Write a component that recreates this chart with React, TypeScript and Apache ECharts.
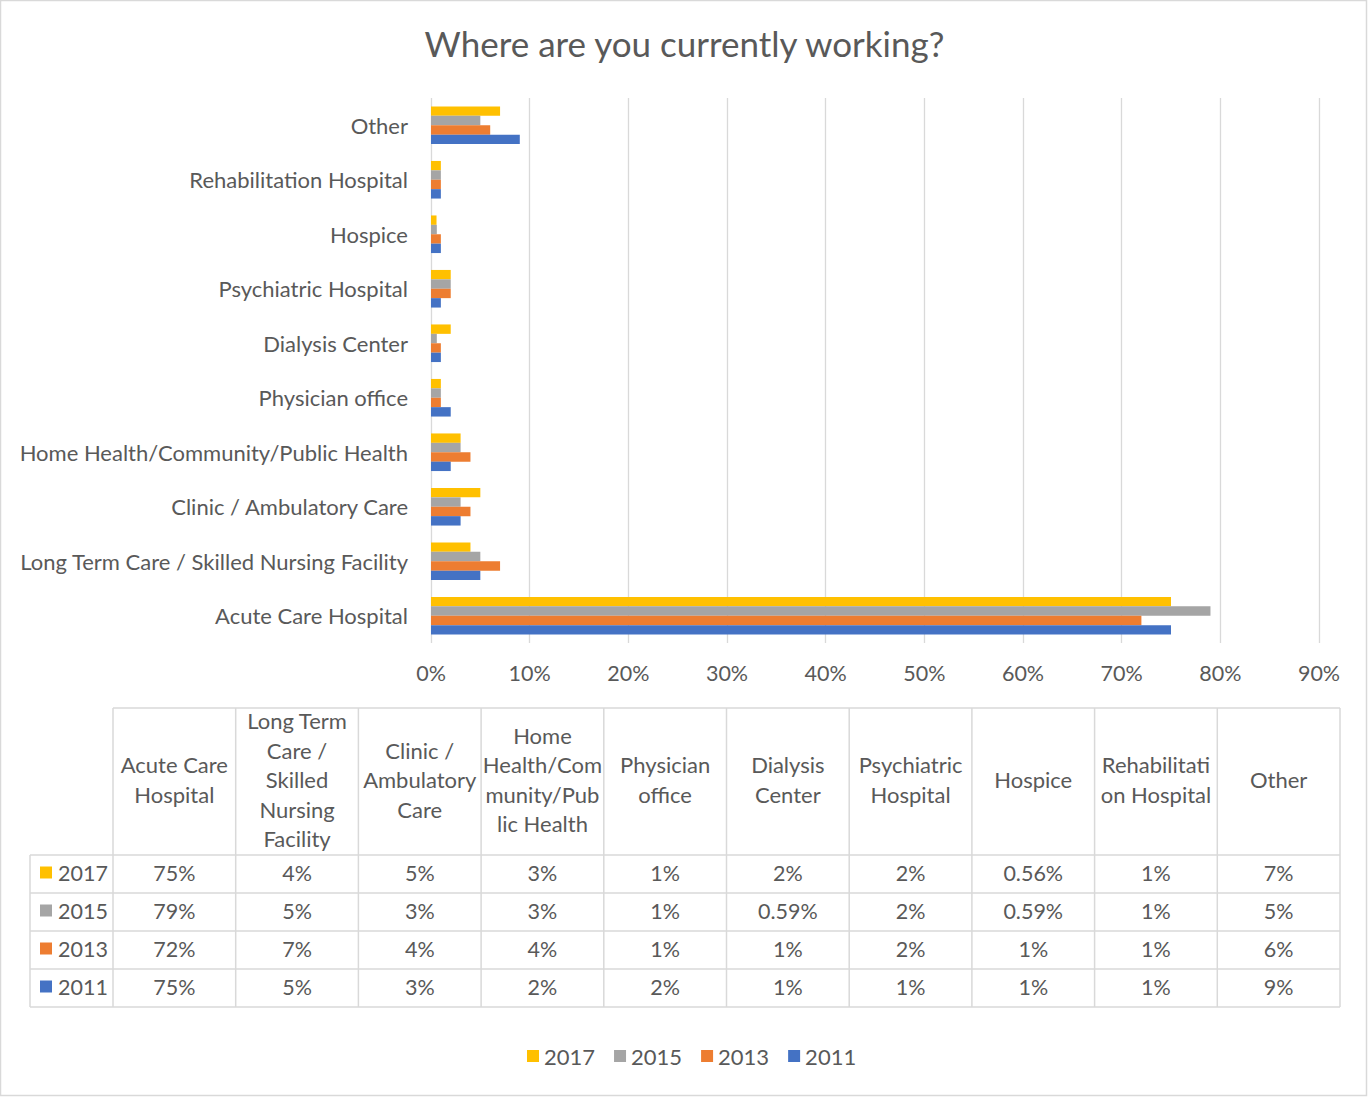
import React, { useEffect, useRef } from "react";
import * as echarts from "echarts";

const categories = [
  "Acute Care Hospital",
  "Long Term Care / Skilled Nursing Facility",
  "Clinic / Ambulatory Care",
  "Home Health/Community/Public Health",
  "Physician office",
  "Dialysis Center",
  "Psychiatric Hospital",
  "Hospice",
  "Rehabilitation Hospital",
  "Other",
];
const tableHeaders = [
  "Acute Care\nHospital",
  "Long Term\nCare /\nSkilled\nNursing\nFacility",
  "Clinic /\nAmbulatory\nCare",
  "Home\nHealth/Com\nmunity/Pub\nlic Health",
  "Physician\noffice",
  "Dialysis\nCenter",
  "Psychiatric\nHospital",
  "Hospice",
  "Rehabilitati\non Hospital",
  "Other",
];
const years = ["2017", "2015", "2013", "2011"];
const v2017 = [75, 4, 5, 3, 1, 2, 2, 0.56, 1, 7];
const v2015 = [79, 5, 3, 3, 1, 0.59, 2, 0.59, 1, 5];
const v2013 = [72, 7, 4, 4, 1, 1, 2, 1, 1, 6];
const v2011 = [75, 5, 3, 2, 2, 1, 1, 1, 1, 9];
const seriesValues = [v2017, v2015, v2013, v2011];
const colors = ["#FFC000", "#A5A5A5", "#ED7D31", "#4472C4"];
const xMin = 0;
const xMax = 90;
const xInterval = 10;

const FONT = "Lato";
const TEXT = "#595959";
const LINE = "#D9D9D9";

function fmt(v: number) {
  return `${v}%`;
}

function buildTable() {
  const left = 30;
  const labelW = 83;
  const x0 = left + labelW;
  const colW = (1340 - x0) / categories.length;
  const top = 708;
  const headH = 147;
  const rowH = 38;
  const right = x0 + colW * categories.length;
  const bottom = top + headH + rowH * years.length;
  const els: any[] = [];
  const ls = { stroke: LINE, lineWidth: 1.5 };
  els.push({ type: "line", shape: { x1: x0, y1: top, x2: right, y2: top }, style: ls, silent: true });
  for (let r = 0; r <= years.length; r++) {
    const y = top + headH + r * rowH;
    els.push({ type: "line", shape: { x1: left, y1: y, x2: right, y2: y }, style: ls, silent: true });
  }
  els.push({ type: "line", shape: { x1: left, y1: top + headH, x2: left, y2: bottom }, style: ls, silent: true });
  for (let c = 0; c <= categories.length; c++) {
    const x = x0 + c * colW;
    els.push({ type: "line", shape: { x1: x, y1: top, x2: x, y2: bottom }, style: ls, silent: true });
  }
  tableHeaders.forEach((h, c) => {
    els.push({
      type: "text",
      x: x0 + c * colW + colW / 2,
      y: top + headH / 2 - 2,
      silent: true,
      style: {
        text: h,
        fill: TEXT,
        fontFamily: FONT,
        fontSize: 22,
        lineHeight: 29.5,
        align: "center",
        verticalAlign: "middle",
      },
    });
  });
  years.forEach((yr, r) => {
    const cy = top + headH + r * rowH + rowH / 2 - 1.5;
    els.push({
      type: "rect",
      shape: { x: 40, y: cy - 6, width: 12, height: 12 },
      style: { fill: colors[r] },
      silent: true,
    });
    els.push({
      type: "text",
      x: 58,
      y: cy,
      silent: true,
      style: { text: yr, fill: TEXT, fontFamily: FONT, fontSize: 21.5, align: "left", verticalAlign: "middle" },
    });
    seriesValues[r].forEach((v, c) => {
      els.push({
        type: "text",
        x: x0 + c * colW + colW / 2,
        y: cy,
        silent: true,
        style: { text: fmt(v), fill: TEXT, fontFamily: FONT, fontSize: 21.5, align: "center", verticalAlign: "middle" },
      });
    });
  });
  els.push({
    type: "rect",
    shape: { x: 0.5, y: 0.5, width: 1366, height: 1095 },
    style: { fill: "none", stroke: LINE, lineWidth: 1.5 },
    silent: true,
  });
  return els;
}

export default function App() {
  const ref = useRef<HTMLDivElement>(null);
  useEffect(() => {
    document.body.style.margin = "0";
    if (!ref.current) return;
    const chart = echarts.init(ref.current, undefined, { renderer: "svg" });
    chart.setOption({
      animation: false,
      backgroundColor: "#FFFFFF",
      textStyle: { fontFamily: FONT, color: TEXT },
      title: {
        text: "Where are you currently working?",
        left: "center",
        top: 20,
        textStyle: { fontFamily: FONT, fontSize: 35, fontWeight: "normal", color: TEXT },
      },
      legend: {
        data: years,
        bottom: 25,
        left: 522,
        icon: "rect",
        itemWidth: 12,
        itemHeight: 12,
        itemGap: 19,
        textStyle: { fontFamily: FONT, fontSize: 22, color: TEXT },
      },
      grid: { left: 431, right: 50, top: 98, height: 545, containLabel: false },
      xAxis: {
        type: "value",
        min: xMin,
        max: xMax,
        interval: xInterval,
        axisLine: { show: false },
        axisTick: { show: false },
        axisLabel: { formatter: "{value}%", fontSize: 21.5, color: TEXT, fontFamily: FONT, margin: 19 },
        splitLine: { show: true, lineStyle: { color: LINE, width: 1.3 } },
      },
      yAxis: {
        type: "category",
        data: categories,
        axisLine: { show: false },
        axisTick: { show: false },
        axisLabel: { fontSize: 22, color: TEXT, fontFamily: FONT, margin: 23 },
      },
      series: years.map((yr, i) => ({
        name: yr,
        type: "bar",
        data: seriesValues[i],
        itemStyle: { color: colors[i] },
        barGap: "0%",
        barCategoryGap: "31%",
      })),
      graphic: buildTable(),
    });
    return () => chart.dispose();
  }, []);
  return <div ref={ref} style={{ width: 1369, height: 1097 }} />;
}
